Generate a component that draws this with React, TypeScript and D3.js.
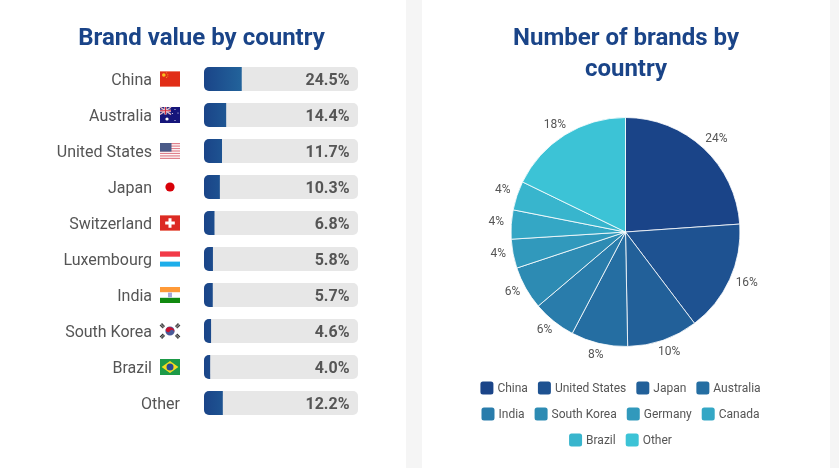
import React, { useEffect } from "react";
import * as d3 from "d3";

const W = 839;
const H = 468;
const FONT = "Roboto, sans-serif";
const INK = "#555555";
const NAVY = "#1a4488";
const TEAL = "#3cc3d6";

const valueCountries = ["China", "Australia", "United States", "Japan", "Switzerland", "Luxembourg", "India", "South Korea", "Brazil", "Other"];
const valueShares = [24.5, 14.4, 11.7, 10.3, 6.8, 5.8, 5.7, 4.6, 4.0, 12.2];

const pieCountries = ["China", "United States", "Japan", "Australia", "India", "South Korea", "Germany", "Canada", "Brazil", "Other"];
const pieShares = [23.9, 15.8, 10.0, 8.0, 6.1, 6.1, 4.1, 4.1, 4.1, 17.8];
const legendRows = [
  ["China", "United States", "Japan", "Australia"],
  ["India", "South Korea", "Germany", "Canada"],
  ["Brazil", "Other"],
];

function Flag({ name }: { name: string }) {
  // local box: 20 x 16, origin top-left
  switch (name) {
    case "China":
      return (
        <g>
          <rect width={20} height={16} fill="#e12d16" />
          <rect width={20} height={0.8} fill="#f09080" />
          <rect y={15.2} width={20} height={0.8} fill="#f09080" />
          <circle cx={3.8} cy={4} r={1.8} fill="#f8c020" />
          {[[6.6, 1.8], [7.8, 3.2], [7.8, 5], [6.6, 6.4]].map(([x, y], i) => (
            <circle key={i} cx={x} cy={y} r={0.55} fill="#f0a020" />
          ))}
        </g>
      );
    case "Australia":
      return (
        <g>
          <rect width={20} height={16} fill="#15157a" />
          <rect width={11} height={7.5} fill="#2a2a80" />
          <path d="M0 0L11 7.5M11 0L0 7.5" stroke="#e8c0c8" strokeWidth={1.4} />
          <path d="M5.5 0V7.5M0 3.75H11" stroke="#f4e8ea" strokeWidth={2.2} />
          <path d="M5.5 0V7.5M0 3.75H11" stroke="#d0283c" strokeWidth={1.1} />
          <circle cx={7} cy={12} r={1.6} fill="#fff" />
          {[[15, 2.5], [18, 6], [12.5, 6.5], [15, 13.5]].map(([x, y], i) => (
            <circle key={i} cx={x} cy={y} r={0.6} fill="#e8e8f8" />
          ))}
        </g>
      );
    case "United States":
      return (
        <g>
          <rect width={20} height={16} fill="#fff" />
          {[0, 1, 2, 3, 4, 5, 6].map((i) => (
            <rect key={i} y={i * 2.46} width={20} height={1.23} fill="#e0808c" />
          ))}
          <rect width={11.5} height={8.6} fill="#4a5a88" />
        </g>
      );
    case "Japan":
      return <circle cx={10} cy={8} r={4.6} fill="#d80008" />;
    case "Switzerland":
      return (
        <g>
          <rect width={20} height={16} fill="#dc2a24" />
          <rect width={20} height={0.7} fill="#f0a090" />
          <rect y={15.3} width={20} height={0.7} fill="#f0a090" />
          <path d="M10 3.2V12.8M5.2 8H14.8" stroke="#fff" strokeWidth={3} />
        </g>
      );
    case "Luxembourg":
      return (
        <g>
          <rect width={20} height={16} fill="#fff" />
          <rect width={20} height={5.3} y={0.4} fill="#f23a48" />
          <rect width={20} height={5} y={10.6} fill="#1eaeea" />
        </g>
      );
    case "India":
      return (
        <g>
          <rect width={20} height={16} fill="#fff" />
          <rect width={20} height={5.2} fill="#ff9a38" />
          <rect width={20} height={5.2} y={10.8} fill="#128a10" />
          <rect x={8} y={5.6} width={4} height={4.8} fill="#a8a8d8" />
        </g>
      );
    case "South Korea":
      return (
        <g>
          <path d="M10 3.4A4.6 4.6 0 0 1 10 12.6A4.6 4.6 0 0 1 10 3.4Z" fill="#4a5a98" />
          <path d="M5.7 6.6A4.6 4.6 0 0 1 14.3 9.4A2.3 2.3 0 0 0 10 8A2.3 2.3 0 0 1 5.7 6.6Z" fill="#c8102e" />
          {[[2.4, 2.8, 45], [17.6, 2.8, -45], [2.4, 13.2, -45], [17.6, 13.2, 45]].map(([x, y, a], i) => (
            <g key={i} transform={`translate(${x},${y}) rotate(${a})`}>
              <rect x={-2.2} y={-1.6} width={4.4} height={0.9} fill="#222" />
              <rect x={-2.2} y={-0.4} width={4.4} height={0.9} fill="#333" />
              <rect x={-2.2} y={0.8} width={4.4} height={0.9} fill="#222" />
            </g>
          ))}
        </g>
      );
    case "Brazil":
      return (
        <g>
          <rect width={20} height={16} fill="#1d9a48" />
          <path d="M10 2L18.4 8L10 14L1.6 8Z" fill="#f4dc20" />
          <circle cx={10} cy={8} r={3.5} fill="#2a4a94" />
        </g>
      );
    default:
      return null;
  }
}

function measure(label: string, font: string) {
  const ctx = document.createElement("canvas").getContext("2d")!;
  ctx.font = font;
  return ctx.measureText(label).width;
}

export default function App() {
  useEffect(() => {
    document.body.style.margin = "0";
    document.body.style.background = "#fff";
  }, []);

  const barH = 24;
  const rows = d3.scalePoint<string>().domain(valueCountries).range([67, 67 + 36 * 9]);
  const barX = d3.scaleLinear().domain([0, 100]).range([204, 358]);

  const colorAt = d3.scaleLinear<string>().domain([0, pieCountries.length - 1]).range([NAVY, TEAL]).interpolate(d3.interpolateRgb);
  const color = d3.scaleOrdinal<string, string>().domain(pieCountries).range(pieCountries.map((_, i) => colorAt(i)));

  const cx = 625.5;
  const cy = 232;
  const R = 114.5;
  const pie = d3.pie<number>().sort(null)(pieShares);
  const arc = d3.arc<d3.PieArcDatum<number>>().innerRadius(0).outerRadius(R);

  const LEGEND_FONT = `12px ${FONT}`;
  const swatch = 13;
  const swatchGap = 4;
  const itemGap = 10;
  const legendCx = 620.5;

  const roundedLeft = (x0: number, x1: number, y0: number, h: number, r: number) => {
    const p = d3.path();
    p.moveTo(x1, y0);
    p.lineTo(x1, y0 + h);
    p.lineTo(x0 + r, y0 + h);
    p.arcTo(x0, y0 + h, x0, y0 + h - r, r);
    p.lineTo(x0, y0 + r);
    p.arcTo(x0, y0, x0 + r, y0, r);
    p.closePath();
    return p.toString();
  };

  return (
    <svg width={W} height={H} viewBox={`0 0 ${W} ${H}`} style={{ position: "absolute", left: 0, top: 0, display: "block", willChange: "transform" }} fontFamily={FONT}>
      <defs>
        <linearGradient id="barGrad" gradientUnits="userSpaceOnUse" x1={barX(0)} x2={barX(100)} y1={0} y2={0}>
          <stop offset="0" stopColor={NAVY} />
          <stop offset="1" stopColor={TEAL} />
        </linearGradient>
      </defs>
      <rect x={406} width={16} height={H} fill="#f5f5f5" />
      <rect x={830} width={9} height={H} fill="#f5f5f5" />

      <text x={201.5} y={45} textAnchor="middle" fontSize={24} fontWeight={700} fill={NAVY}>Brand value by country</text>
      <text x={626} y={45} textAnchor="middle" fontSize={24} fontWeight={700} fill={NAVY}>Number of brands by</text>
      <text x={626} y={75.5} textAnchor="middle" fontSize={24} fontWeight={700} fill={NAVY}>country</text>

      {valueCountries.map((name, i) => {
        const y = rows(name)!;
        const mid = y + barH / 2;
        const isOther = name === "Other";
        return (
          <g key={name}>
            <text x={isOther ? 180 : 152} y={mid + 5.5} textAnchor="end" fontSize={16} fill={INK}>{name}</text>
            {!isOther && (
              <g transform={`translate(160,${mid - 8})`}>
                <Flag name={name} />
              </g>
            )}
            <rect x={barX(0)} y={y} width={barX(100) - barX(0)} height={barH} rx={5} fill="#e7e7e7" />
            <path d={roundedLeft(barX(0), barX(valueShares[i]), y, barH, 5)} fill="url(#barGrad)" />
            <text x={349.5} y={mid + 5.5} textAnchor="end" fontSize={16} fontWeight={700} fill={INK}>{valueShares[i].toFixed(1)}%</text>
          </g>
        );
      })}

      <g transform={`translate(${cx},${cy})`}>
        {pie.map((d, i) => (
          <path key={i} d={arc(d)!} fill={color(pieCountries[i])} stroke="#fff" strokeWidth={0.8} />
        ))}
        {pie.map((d, i) => {
          const label = `${Math.round(pieShares[i])}%`;
          const a = (d.startAngle + d.endAngle) / 2;
          const rx = 121 + 0.55 * measure(label, LEGEND_FONT);
          const lx = Math.sin(a) * rx;
          const ly = -Math.cos(a) * 126 - 3 * Math.sin(a) * Math.sin(a);
          return (
            <text key={i} x={lx} y={ly + 4} textAnchor="middle" fontSize={12} fill={INK}>{label}</text>
          );
        })}
      </g>

      {legendRows.map((row, r) => {
        const widths = row.map((n) => swatch + swatchGap + measure(n, LEGEND_FONT));
        const total = d3.sum(widths) + itemGap * (row.length - 1);
        let x = legendCx - total / 2;
        const midY = 388 + r * 26;
        return (
          <g key={r}>
            {row.map((n, i) => {
              const x0 = x;
              x += widths[i] + itemGap;
              return (
                <g key={n}>
                  <rect x={x0} y={midY - swatch / 2} width={swatch} height={swatch} rx={2.5} fill={color(n)} />
                  <text x={x0 + swatch + swatchGap} y={midY + 4} fontSize={12} fill={INK}>{n}</text>
                </g>
              );
            })}
          </g>
        );
      })}
    </svg>
  );
}
